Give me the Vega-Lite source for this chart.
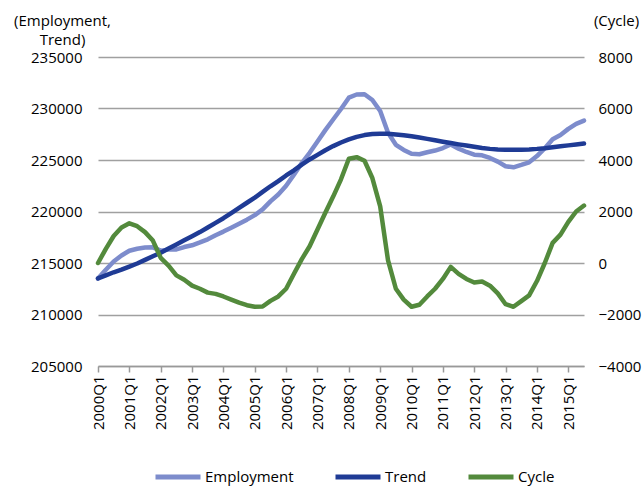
{
  "$schema": "https://vega.github.io/schema/vega-lite/v6.json",
  "width": 486,
  "height": 309,
  "autosize": {"type": "none"},
  "padding": {"left": 98, "top": 57, "right": 58, "bottom": 120},
  "background": "white",
  "config": {
    "view": {"stroke": null},
    "font": "Open Sans",
    "axis": {
      "labelFont": "Open Sans",
      "labelFontSize": 15,
      "labelColor": "#000000",
      "titleFont": "Open Sans",
      "titleFontSize": 15,
      "titleFontWeight": "normal",
      "titleColor": "#000000"
    },
    "legend": {
      "labelFont": "Open Sans",
      "labelFontSize": 15,
      "labelColor": "#000000"
    }
  },
  "data": {
    "values": [
      {"q": "2000Q1", "Employment": 213500, "Trend": 213500, "Cycle": 0},
      {"q": "2000Q2", "Employment": 214350, "Trend": 213800, "Cycle": 550},
      {"q": "2000Q3", "Employment": 215150, "Trend": 214100, "Cycle": 1050},
      {"q": "2000Q4", "Employment": 215730, "Trend": 214350, "Cycle": 1380},
      {"q": "2001Q1", "Employment": 216190, "Trend": 214650, "Cycle": 1540},
      {"q": "2001Q2", "Employment": 216380, "Trend": 214950, "Cycle": 1430},
      {"q": "2001Q3", "Employment": 216500, "Trend": 215300, "Cycle": 1200},
      {"q": "2001Q4", "Employment": 216520, "Trend": 215650, "Cycle": 870},
      {"q": "2002Q1", "Employment": 216200, "Trend": 216000, "Cycle": 200},
      {"q": "2002Q2", "Employment": 216300, "Trend": 216400, "Cycle": -100},
      {"q": "2002Q3", "Employment": 216320, "Trend": 216800, "Cycle": -480},
      {"q": "2002Q4", "Employment": 216550, "Trend": 217200, "Cycle": -650},
      {"q": "2003Q1", "Employment": 216720, "Trend": 217600, "Cycle": -880},
      {"q": "2003Q2", "Employment": 217000, "Trend": 218000, "Cycle": -1000},
      {"q": "2003Q3", "Employment": 217300, "Trend": 218450, "Cycle": -1150},
      {"q": "2003Q4", "Employment": 217700, "Trend": 218900, "Cycle": -1200},
      {"q": "2004Q1", "Employment": 218050, "Trend": 219350, "Cycle": -1300},
      {"q": "2004Q2", "Employment": 218430, "Trend": 219850, "Cycle": -1420},
      {"q": "2004Q3", "Employment": 218810, "Trend": 220350, "Cycle": -1540},
      {"q": "2004Q4", "Employment": 219210, "Trend": 220850, "Cycle": -1640},
      {"q": "2005Q1", "Employment": 219650, "Trend": 221350, "Cycle": -1700},
      {"q": "2005Q2", "Employment": 220210, "Trend": 221900, "Cycle": -1690},
      {"q": "2005Q3", "Employment": 220980, "Trend": 222450, "Cycle": -1470},
      {"q": "2005Q4", "Employment": 221650, "Trend": 222950, "Cycle": -1300},
      {"q": "2006Q1", "Employment": 222500, "Trend": 223500, "Cycle": -1000},
      {"q": "2006Q2", "Employment": 223580, "Trend": 224000, "Cycle": -420},
      {"q": "2006Q3", "Employment": 224700, "Trend": 224550, "Cycle": 150},
      {"q": "2006Q4", "Employment": 225700, "Trend": 225050, "Cycle": 650},
      {"q": "2007Q1", "Employment": 226800, "Trend": 225500, "Cycle": 1300},
      {"q": "2007Q2", "Employment": 227900, "Trend": 225950, "Cycle": 1950},
      {"q": "2007Q3", "Employment": 228930, "Trend": 226350, "Cycle": 2580},
      {"q": "2007Q4", "Employment": 229950, "Trend": 226700, "Cycle": 3250},
      {"q": "2008Q1", "Employment": 231050, "Trend": 227000, "Cycle": 4050},
      {"q": "2008Q2", "Employment": 231360, "Trend": 227250, "Cycle": 4110},
      {"q": "2008Q3", "Employment": 231390, "Trend": 227420, "Cycle": 3970},
      {"q": "2008Q4", "Employment": 230820, "Trend": 227520, "Cycle": 3300},
      {"q": "2009Q1", "Employment": 229760, "Trend": 227560, "Cycle": 2200},
      {"q": "2009Q2", "Employment": 227650, "Trend": 227550, "Cycle": 100},
      {"q": "2009Q3", "Employment": 226480, "Trend": 227480, "Cycle": -1000},
      {"q": "2009Q4", "Employment": 225980, "Trend": 227400, "Cycle": -1420},
      {"q": "2010Q1", "Employment": 225600, "Trend": 227300, "Cycle": -1700},
      {"q": "2010Q2", "Employment": 225560, "Trend": 227180, "Cycle": -1620},
      {"q": "2010Q3", "Employment": 225750, "Trend": 227050, "Cycle": -1300},
      {"q": "2010Q4", "Employment": 225920, "Trend": 226920, "Cycle": -1000},
      {"q": "2011Q1", "Employment": 226160, "Trend": 226780, "Cycle": -620},
      {"q": "2011Q2", "Employment": 226500, "Trend": 226650, "Cycle": -150},
      {"q": "2011Q3", "Employment": 226100, "Trend": 226520, "Cycle": -420},
      {"q": "2011Q4", "Employment": 225780, "Trend": 226400, "Cycle": -620},
      {"q": "2012Q1", "Employment": 225520, "Trend": 226280, "Cycle": -760},
      {"q": "2012Q2", "Employment": 225450, "Trend": 226170, "Cycle": -720},
      {"q": "2012Q3", "Employment": 225200, "Trend": 226080, "Cycle": -880},
      {"q": "2012Q4", "Employment": 224840, "Trend": 226020, "Cycle": -1180},
      {"q": "2013Q1", "Employment": 224390, "Trend": 225990, "Cycle": -1600},
      {"q": "2013Q2", "Employment": 224290, "Trend": 225990, "Cycle": -1700},
      {"q": "2013Q3", "Employment": 224520, "Trend": 226000, "Cycle": -1480},
      {"q": "2013Q4", "Employment": 224770, "Trend": 226030, "Cycle": -1260},
      {"q": "2014Q1", "Employment": 225380, "Trend": 226080, "Cycle": -700},
      {"q": "2014Q2", "Employment": 226150, "Trend": 226150, "Cycle": 0},
      {"q": "2014Q3", "Employment": 227020, "Trend": 226240, "Cycle": 780},
      {"q": "2014Q4", "Employment": 227430, "Trend": 226330, "Cycle": 1100},
      {"q": "2015Q1", "Employment": 228020, "Trend": 226420, "Cycle": 1600},
      {"q": "2015Q2", "Employment": 228510, "Trend": 226510, "Cycle": 2000},
      {"q": "2015Q3", "Employment": 228830, "Trend": 226600, "Cycle": 2230}
    ]
  },
  "encoding": {
    "x": {
      "field": "q",
      "type": "ordinal",
      "sort": null,
      "scale": {"type": "point", "padding": 0},
      "axis": {
        "title": null,
        "values": ["2000Q1", "2001Q1", "2002Q1", "2003Q1", "2004Q1", "2005Q1", "2006Q1", "2007Q1", "2008Q1", "2009Q1", "2010Q1", "2011Q1", "2012Q1", "2013Q1", "2014Q1", "2015Q1"],
        "labelAngle": 270,
        "labelAlign": "right",
        "labelBaseline": "middle",
        "labelPadding": 3,
        "tickSize": 6,
        "tickColor": "#999999",
        "tickWidth": 1.5,
        "domainColor": "#999999",
        "domainWidth": 1.5,
        "grid": false
      }
    }
  },
  "layer": [
    {
      "transform": [{"fold": ["Employment", "Trend"], "as": ["series", "value"]}],
      "mark": {"type": "line", "strokeWidth": 4.5, "strokeCap": "round", "strokeJoin": "round"},
      "encoding": {
        "y": {
          "field": "value",
          "type": "quantitative",
          "scale": {"domain": [205000, 235000], "zero": false, "nice": false},
          "axis": {
            "title": ["(Employment,", "Trend)"],
            "titleAngle": 0,
            "titleAlign": "center",
            "titleBaseline": "alphabetic",
            "titleX": -36,
            "titleY": -32,
            "titleLineHeight": 19,
            "values": [205000, 210000, 215000, 220000, 225000, 230000, 235000],
            "format": "d",
            "domain": false,
            "ticks": false,
            "labelPadding": 16,
            "grid": true,
            "gridColor": "#a0a0a0",
            "gridWidth": 1.3
          }
        },
        "color": {
          "field": "series",
          "type": "nominal",
          "scale": {"domain": ["Employment", "Trend", "Cycle"], "range": ["#7d8ccc", "#1f3b95", "#538a3c"]},
          "legend": {
            "title": null,
            "orient": "none",
            "direction": "horizontal",
            "legendX": 55,
            "legendY": 395,
            "symbolType": "stroke",
            "symbolSize": 2025,
            "symbolStrokeWidth": 5,
            "labelOffset": 2,
            "columnPadding": 31,
            "padding": 0
          }
        }
      }
    },
    {
      "transform": [{"fold": ["Cycle"], "as": ["series", "value"]}],
      "mark": {"type": "line", "strokeWidth": 4.5, "strokeCap": "round", "strokeJoin": "round"},
      "encoding": {
        "y": {
          "field": "value",
          "type": "quantitative",
          "scale": {"domain": [-4000, 8000], "zero": false, "nice": false},
          "axis": {
            "orient": "right",
            "title": "(Cycle)",
            "titleAngle": 0,
            "titleAlign": "center",
            "titleBaseline": "alphabetic",
            "titleX": 32,
            "titleY": -32,
            "values": [-4000, -2000, 0, 2000, 4000, 6000, 8000],
            "format": "d",
            "domain": false,
            "ticks": false,
            "grid": false,
            "labelPadding": 14
          }
        },
        "color": {"field": "series", "type": "nominal"}
      }
    }
  ],
  "resolve": {"scale": {"y": "independent"}}
}
